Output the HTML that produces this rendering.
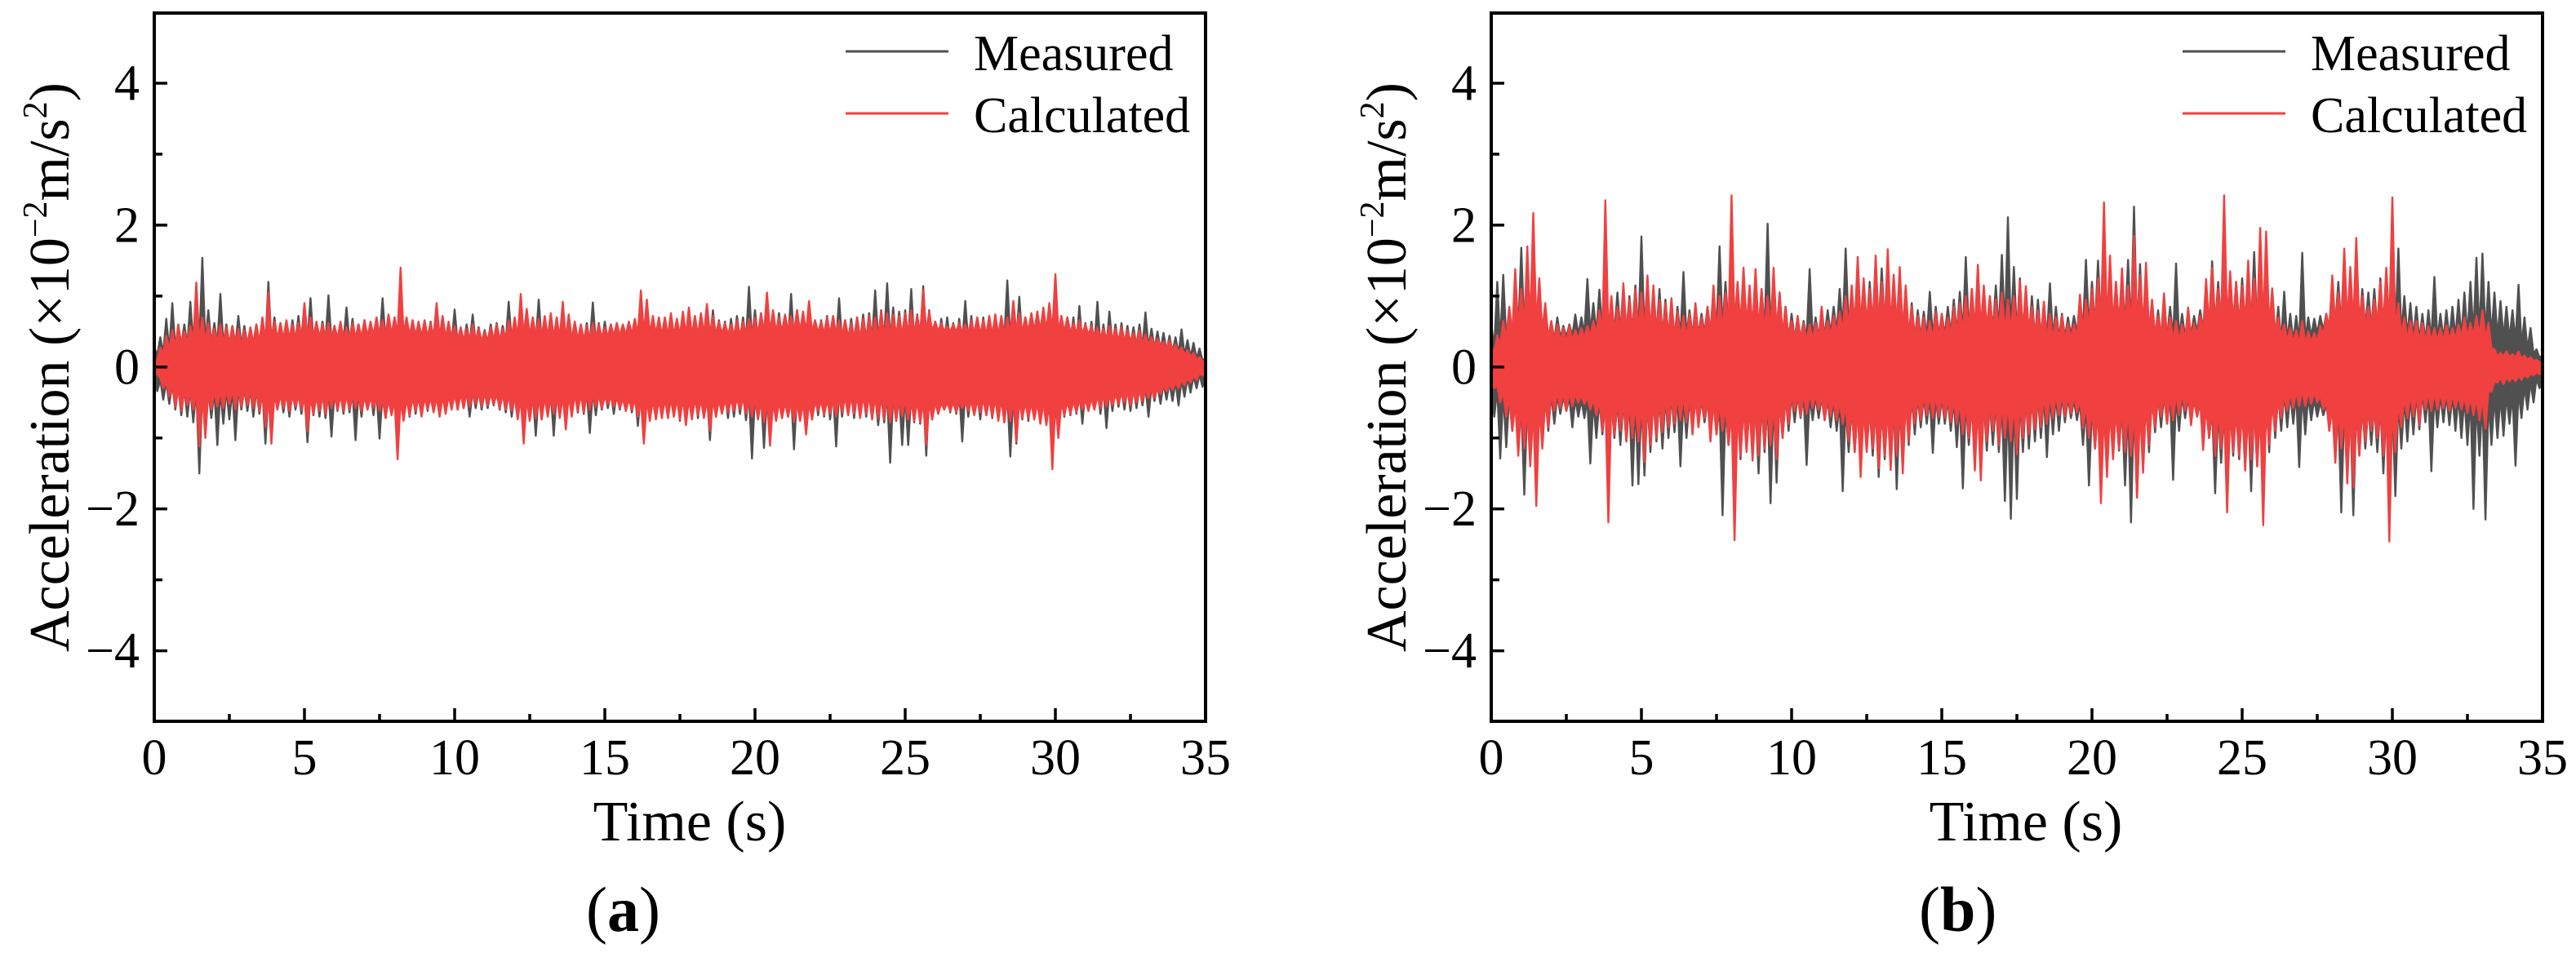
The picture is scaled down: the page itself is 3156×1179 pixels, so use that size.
<!DOCTYPE html>
<html lang="en">
<head>
<meta charset="utf-8">
<title>Measured and calculated acceleration</title>
<style>
html,body{margin:0;padding:0;background:#fff;width:3156px;height:1179px;overflow:hidden}
svg{display:block}
text{font-family:"Liberation Serif",serif;fill:#000}
</style>
</head>
<body>
<svg id="figure" xmlns="http://www.w3.org/2000/svg" width="3156" height="1179" viewBox="0 0 3156 1179">
  <rect width="3156" height="1179" fill="#fff"/>
  <g id="panel-a">
    <g class="marks"></g>
    <rect x="189" y="16" width="1288" height="868" fill="none" stroke="#000" stroke-width="4"/>
    <g class="ticks"></g>
    <text transform="translate(84 799) rotate(-90)" font-size="70">Acceleration (×10<tspan font-size="42" dy="-27">−2</tspan><tspan dy="27">m/s</tspan><tspan font-size="42" dy="-27">2</tspan><tspan dy="27">)</tspan></text>
    <text x="845" y="1030" font-size="70" text-anchor="middle">Time (s)</text>
    <text x="718" y="1141" font-size="78">(<tspan font-weight="bold">a</tspan>)</text>
    <line x1="1036" x2="1162" y1="63" y2="63" stroke="#505050" stroke-width="3"/>
    <text x="1193" y="86" font-size="62">Measured</text>
    <line x1="1036" x2="1162" y1="139" y2="139" stroke="#f04040" stroke-width="3"/>
    <text x="1193" y="162" font-size="62">Calculated</text>
  </g>
  <g id="panel-b">
    <g class="marks"></g>
    <rect x="1827" y="16" width="1288" height="868" fill="none" stroke="#000" stroke-width="4"/>
    <g class="ticks"></g>
    <text transform="translate(1722 799) rotate(-90)" font-size="70">Acceleration (×10<tspan font-size="42" dy="-27">−2</tspan><tspan dy="27">m/s</tspan><tspan font-size="42" dy="-27">2</tspan><tspan dy="27">)</tspan></text>
    <text x="2482" y="1030" font-size="70" text-anchor="middle">Time (s)</text>
    <text x="2351" y="1141" font-size="78">(<tspan font-weight="bold">b</tspan>)</text>
    <line x1="2674" x2="2800" y1="63" y2="63" stroke="#505050" stroke-width="3"/>
    <text x="2831" y="86" font-size="62">Measured</text>
    <line x1="2674" x2="2800" y1="139" y2="139" stroke="#f04040" stroke-width="3"/>
    <text x="2831" y="162" font-size="62">Calculated</text>
  </g>
</svg>
<script>
const xTickValues = [0,5,10,15,20,25,30,35];
const xTickLabels = ["0","5","10","15","20","25","30","35"];
const xMinorValues = [2.5,7.5,12.5,17.5,22.5,27.5,32.5];
const yTickValues = [-4,-2,0,2,4];
const yTickLabels = ["−4","−2","0","2","4"];
const yMinorValues = [-3,-1,1,3];
const seriesDuration = 35;

// Peak readings (hundredths of 1e-2 m/s2), alternating up/down swings, 10 readings per second.
const measuredA = [
28,-34,42,-46,68,-52,90,-60,55,-68,
60,-70,92,-78,70,-150,154,-95,80,-72,
62,-110,103,-80,60,-74,58,-103,72,-60,
58,-62,55,-70,60,-66,64,-108,120,-85,
70,-58,62,-64,58,-70,66,-60,72,-66,
60,-106,97,-68,62,-70,64,-72,101,-98,
58,-62,60,-66,84,-64,68,-103,60,-70,
66,-60,62,-68,58,-101,97,-72,60,-62,
62,-64,66,-58,60,-70,62,-66,58,-60,
60,-62,64,-58,66,-60,62,-64,58,-56,
81,-60,55,-58,60,-70,74,-58,56,-60,
52,-58,60,-54,62,-60,58,-64,92,-70,
66,-72,60,-62,64,-66,58,-97,95,-74,
60,-68,62,-97,66,-60,64,-70,72,-66,
60,-64,58,-66,62,-93,91,-68,62,-60,
64,-58,60,-66,62,-60,58,-62,60,-64,
66,-83,86,-70,62,-66,70,-72,60,-64,
66,-70,72,-68,62,-76,70,-72,78,-70,
66,-72,70,-68,78,-103,80,-70,66,-62,
64,-72,68,-70,72,-66,70,-75,113,-129,
80,-72,76,-114,78,-82,70,-74,76,-72,
72,-70,103,-116,80,-76,78,-72,70,-74,
62,-68,66,-70,72,-74,70,-112,97,-70,
66,-62,68,-72,70,-66,74,-70,76,-72,
108,-82,80,-78,118,-135,84,-76,78,-110,
80,-110,110,-78,74,-80,114,-125,80,-74,
64,-66,68,-60,70,-64,62,-66,68,-105,
93,-70,72,-66,68,-74,70,-68,66,-72,
74,-70,70,-78,122,-126,82,-108,99,-74,
70,-76,72,-68,78,-74,80,-72,76,-70,
84,-74,72,-70,66,-68,70,-66,86,-80,
62,-60,64,-58,92,-66,60,-86,78,-62,
60,-56,62,-60,58,-62,56,-58,60,-54,
77,-70,54,-48,50,-52,48,-46,44,-48,
42,-54,53,-42,38,-36,34,-30,26,-28,
12];
const calculatedA = [
8,-10,28,-30,44,-42,52,-56,60,-62,
50,-54,58,-60,119,-112,70,-100,62,-60,
54,-56,60,-58,56,-52,58,-60,54,-56,
52,-54,56,-58,60,-62,70,-85,105,-108,
64,-60,62,-58,66,-62,60,-56,62,-60,
90,-90,70,-66,64,-62,60,-66,62,-58,
58,-60,64,-62,56,-60,62,-58,60,-62,
66,-60,64,-58,70,-62,66,-72,74,-68,
70,-130,140,-76,70,-68,66,-62,64,-70,
66,-60,62,-64,90,-70,72,-66,64,-60,
58,-60,56,-58,54,-56,60,-52,54,-56,
50,-54,56,-52,60,-58,54,-60,66,-62,
70,-74,103,-108,82,-76,70,-72,68,-74,
72,-70,76,-66,70,-72,92,-88,74,-70,
64,-62,60,-64,58,-60,62,-56,60,-58,
56,-52,60,-56,62,-58,60,-62,64,-60,
68,-70,108,-108,95,-76,72,-74,70,-72,
70,-72,76,-70,68,-74,78,-82,84,-74,
72,-68,76,-72,89,-90,72,-70,64,-66,
62,-64,60,-62,66,-60,64,-66,68,-70,
70,-74,76,-78,105,-111,80,-76,70,-72,
74,-70,72,-78,80,-76,78,-95,93,-74,
66,-62,64,-68,70,-66,72,-70,66,-64,
66,-68,62,-66,70,-72,68,-66,72,-74,
70,-72,78,-74,76,-78,74,-76,72,-70,
76,-74,80,-76,72,-78,108,-110,78,-74,
64,-66,62,-60,58,-62,60,-64,62,-58,
60,-62,66,-68,70,-64,66,-68,72,-70,
74,-76,72,-78,70,-76,93,-105,76,-72,
70,-72,76,-74,78,-80,84,-82,90,-144,
131,-100,72,-68,70,-66,62,-64,66,-60,
60,-62,58,-60,56,-58,54,-56,58,-54,
54,-52,56,-50,52,-54,48,-50,52,-48,
46,-44,42,-44,40,-38,36,-34,38,-32,
32,-30,28,-26,24,-22,20,-18,14,-12,
8];
const measuredB = [
60,-70,120,-129,130,-113,80,-90,95,-110,
168,-180,110,-120,190,-130,120,-110,85,-90,
62,-80,70,-66,58,-62,60,-85,74,-70,
70,-72,124,-136,90,-100,109,-95,100,-90,
96,-100,105,-110,95,-105,100,-167,115,-165,
184,-153,110,-120,100,-105,110,-115,95,-100,
90,-92,85,-140,134,-100,80,-85,75,-80,
75,-78,85,-80,90,-95,170,-209,120,-110,
147,-125,110,-130,120,-115,105,-110,100,-150,
110,-120,202,-192,120,-163,105,-100,85,-90,
75,-78,70,-72,65,-138,138,-75,70,-72,
72,-75,80,-85,85,-90,110,-175,167,-120,
110,-120,105,-130,115,-110,120,-125,110,-155,
139,-130,110,-115,112,-172,105,-120,100,-110,
90,-95,80,-85,78,-80,106,-121,85,-80,
75,-80,85,-90,95,-113,106,-171,155,-110,
110,-115,120,-125,105,-118,100,-110,115,-120,
158,-189,211,-214,141,-186,125,-120,110,-115,
100,-105,95,-100,90,-127,118,-95,85,-90,
75,-78,70,-72,72,-75,95,-110,151,-167,
120,-115,150,-125,125,-120,115,-125,120,-118,
130,-167,151,-219,226,-184,145,-135,115,-120,
90,-92,80,-85,75,-80,85,-159,146,-90,
75,-72,70,-75,72,-70,80,-85,95,-100,
149,-178,120,-135,152,-140,130,-125,120,-130,
125,-130,135,-175,162,-140,130,-191,150,-120,
95,-100,85,-90,106,-85,75,-80,72,-141,
161,-95,70,-75,68,-70,72,-68,75,-80,
95,-105,120,-205,125,-130,115,-209,130,-125,
110,-115,105,-110,110,-120,125,-150,133,-130,
120,-182,167,-115,100,-105,90,-95,85,-88,
75,-78,80,-147,127,-85,75,-78,80,-82,
85,-90,95,-100,105,-110,120,-200,154,-125,
160,-215,120,-110,105,-100,93,-97,85,-80,
80,-139,116,-72,70,-60,55,-50,25,-30,
17];
const calculatedB = [
30,-30,45,-50,65,-70,85,-90,138,-125,
110,-115,170,-140,217,-196,125,-115,90,-85,
65,-62,60,-58,55,-62,58,-55,52,-50,
55,-52,58,-60,65,-68,80,-90,235,-219,
100,-95,85,-90,118,-105,95,-100,110,-105,
105,-134,129,-110,115,-100,95,-92,90,-85,
97,-80,78,-75,72,-78,75,-95,90,-85,
70,-72,85,-105,115,-95,100,-90,105,-110,
242,-244,120,-125,140,-120,115,-132,138,-125,
110,-115,100,-110,140,-130,105,-100,85,-80,
65,-62,72,-70,62,-66,60,-58,62,-60,
85,-75,65,-70,72,-75,78,-80,100,-105,
115,-120,155,-155,125,-120,110,-115,157,-143,
120,-125,166,-145,130,-125,141,-150,115,-105,
85,-80,72,-75,70,-68,65,-72,78,-70,
75,-72,70,-78,85,-80,90,-95,100,-100,
110,-146,144,-160,115,-105,100,-90,95,-110,
105,-100,95,-105,100,-123,121,-100,114,-95,
85,-88,80,-85,92,-80,75,-72,70,-68,
72,-70,62,-66,60,-64,102,-86,95,-100,
110,-115,125,-192,232,-155,157,-130,120,-115,
139,-120,115,-125,185,-184,130,-149,147,-110,
95,-85,72,-70,104,-80,70,-75,65,-68,
60,-62,84,-82,62,-70,72,-117,124,-100,
140,-125,110,-115,242,-205,135,-120,120,-125,
115,-146,150,-130,125,-140,196,-223,191,-110,
111,-90,70,-72,60,-62,55,-58,52,-55,
65,-55,50,-52,48,-50,58,-60,75,-90,
129,-135,105,-115,167,-164,141,-170,182,-125,
100,-105,85,-90,95,-100,120,-125,140,-246,
239,-120,90,-85,70,-72,65,-70,65,-82,
62,-60,58,-62,55,-60,55,-58,59,-62,
55,-58,60,-60,70,-65,62,-68,72,-75,
80,-87,62,-35,25,-22,20,-24,22,-20,
18,-20,22,-18,16,-15,14,-12,10,-10,
6];

// Half-width of the dense solid band of each trace (same units), read along the time axis.
const calculatedCoreA = [
10,24,34,36,34,32,30,34,38,40,
42,42,40,40,42,44,46,44,42,42,
38,36,36,38,42,44,42,40,38,38,
42,44,46,46,44,44,44,46,46,44,
46,48,50,50,48,46,42,40,40,42,
46,48,50,50,48,46,44,46,50,50,
50,48,46,40,38,36,32,28,22,14,
6];
const measuredCoreA = [15,30,32,30,35,36,35,34,36,35,33,34,36,35,33,34,36,36,35,35,38,37,35,34,38,38,34,33,38,36,36,30,30,28,20,8];
const calculatedCoreB = [
15,40,55,58,36,34,40,46,46,48,
50,46,40,40,42,48,58,56,50,50,
38,36,40,46,56,58,58,56,42,38,
40,46,52,52,48,50,46,38,36,42,
58,58,56,58,46,38,36,44,58,60,
58,62,52,36,32,36,56,60,58,60,
56,38,34,36,38,42,44,15,14,10,
6];
const measuredCoreB = [25,50,38,46,48,48,40,46,56,50,38,42,56,56,40,44,50,50,40,40,56,56,40,40,58,58,36,36,58,56,50,36,40,45,38,10];

const SVGNS = 'http://www.w3.org/2000/svg';
const plotLeft = 189, plotOffsetB = 1638, pxPerSecond = 36.8, zeroY = 449.8, pxPerUnit = 86.95, plotBottom = 884;

function xScale(t, offset) { return plotLeft + offset + pxPerSecond * t; }
function yScale(v) { return zeroY - pxPerUnit * v; }

function make(tag, attrs, parent) {
  const el = document.createElementNS(SVGNS, tag);
  for (const k in attrs) el.setAttribute(k, attrs[k]);
  parent.appendChild(el);
  return el;
}

function drawTicks(group, offset) {
  xTickValues.forEach(function (v, i) {
    const x = xScale(v, offset);
    if (v > 0 && v < seriesDuration) {
      const t = make('line', {x1: x, x2: x, y1: plotBottom, y2: plotBottom - 16, stroke: '#000', 'stroke-width': 3.5}, group);
      
      
    }
    const l = make('text', {x: x, y: 949, 'font-size': 62, 'text-anchor': 'middle'}, group);
    l.textContent = xTickLabels[i];
    
    
  });
  xMinorValues.forEach(function (v) {
    const x = xScale(v, offset);
    const t = make('line', {x1: x, x2: x, y1: plotBottom, y2: plotBottom - 9, stroke: '#000', 'stroke-width': 3.5}, group);
    
    
  });
  yTickValues.forEach(function (v, i) {
    const y = yScale(v), x0 = xScale(0, offset);
    const t = make('line', {x1: x0, x2: x0 + 16, y1: y, y2: y, stroke: '#000', 'stroke-width': 3.5}, group);
    
    
    const l = make('text', {x: x0 - 18, y: y + 20.5, 'font-size': 62, 'text-anchor': 'end'}, group);
    l.textContent = yTickLabels[i];
    
    
  });
  yMinorValues.forEach(function (v) {
    const y = yScale(v), x0 = xScale(0, offset);
    const t = make('line', {x1: x0, x2: x0 + 10, y1: y, y2: y, stroke: '#000', 'stroke-width': 3.5}, group);
    
    
  });
}

function coreAt(core, t) {
  const pos = t / seriesDuration * (core.length - 1);
  const lo = Math.floor(pos), hi = Math.min(lo + 1, core.length - 1);
  return core[lo] + (core[hi] - core[lo]) * (pos - lo);
}

// One filled waveform: up-swing readings form the upper edge, down-swing readings the lower edge,
// and between swings the edge falls back to the solid band.
function drawTrace(group, values, core, offset, color, name) {
  const step = seriesDuration / (values.length - 1);
  const top = [], bottom = [];
  values.forEach(function (v, i) {
    const t = i * step, x = xScale(t, offset).toFixed(1), w = Math.min(coreAt(core, t), Math.abs(v));
    top.push(x + ',' + yScale((v > 0 ? v : w) / 100).toFixed(1));
    bottom.push(x + ',' + yScale((v < 0 ? v : -w) / 100).toFixed(1));
  });
  const p = make('polygon', {points: top.concat(bottom.reverse()).join(' '), fill: color, stroke: color, 'stroke-width': 2.4, 'stroke-linejoin': 'round'}, group);
  
  
}

function drawPanel(id, offset, measured, calculated, measuredCore, calculatedCore) {
  const root = document.getElementById(id);
  const marks = root.querySelector('.marks');
  drawTrace(marks, measured, measuredCore, offset, '#505050', 'measured-trace');
  drawTrace(marks, calculated, calculatedCore, offset, '#f04040', 'calculated-trace');
  drawTicks(root.querySelector('.ticks'), offset);
}

drawPanel('panel-a', 0, measuredA, calculatedA, measuredCoreA, calculatedCoreA);
drawPanel('panel-b', plotOffsetB, measuredB, calculatedB, measuredCoreB, calculatedCoreB);
</script>
</body>
</html>
